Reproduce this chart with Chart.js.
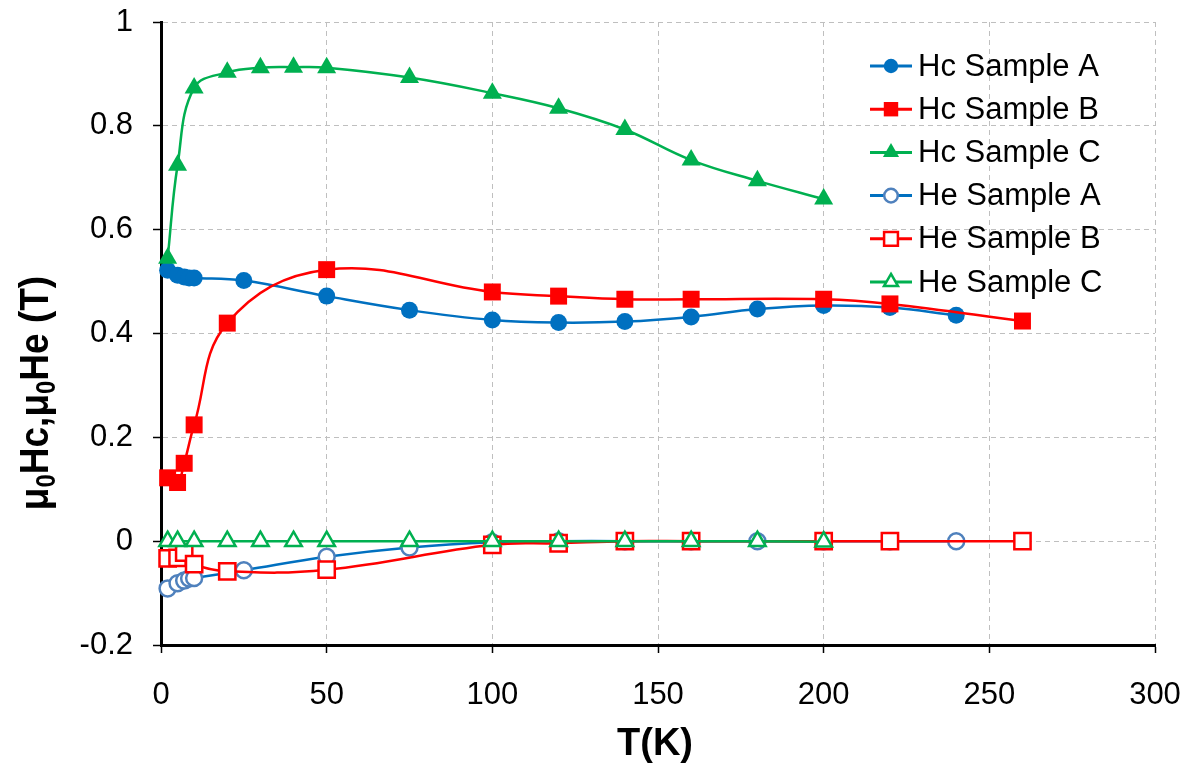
<!DOCTYPE html>
<html>
<head>
<meta charset="utf-8">
<script src="https://cdn.jsdelivr.net/npm/chart.js@4/dist/chart.umd.min.js"></script>
<style>
  html, body { margin: 0; padding: 0; background: #fff; }
  #wrap { width: 1193px; height: 765px; position: relative; }
</style>
</head>
<body>
<div id="wrap"><canvas id="c" width="1193" height="765"></canvas></div>
<script>
// ---- Data ----
const tA = [2, 5, 7, 8.5, 10, 25, 50, 75, 100, 120, 140, 160, 180, 200, 220, 240];
const hcA = [0.522, 0.512, 0.509, 0.507, 0.507, 0.502, 0.472, 0.445, 0.426, 0.421, 0.423, 0.432, 0.447, 0.454, 0.450, 0.435];
const heA = [-0.091, -0.081, -0.076, -0.072, -0.071, -0.056, -0.030, -0.012, -0.002, 0, 0, 0, 0, 0, 0, 0];

const tB = [2, 5, 7, 10, 20, 50, 100, 120, 140, 160, 200, 220, 260];
const hcB = [0.122, 0.113, 0.150, 0.224, 0.420, 0.523, 0.480, 0.472, 0.466, 0.466, 0.466, 0.457, 0.424];
const heB = [-0.033, -0.032, -0.022, -0.044, -0.058, -0.055, -0.007, -0.004, 0, 0, 0, 0, 0];

const tC = [2, 5, 10, 20, 30, 40, 50, 75, 100, 120, 140, 160, 180, 200];
const hcC = [0.545, 0.724, 0.873, 0.903, 0.912, 0.913, 0.912, 0.893, 0.863, 0.834, 0.793, 0.734, 0.694, 0.659];
const heC = [0, 0, 0, 0, 0, 0, 0, 0, 0, 0, 0, 0, 0, -0.001];

const seriesNames = ['Hc Sample A', 'Hc Sample B', 'Hc Sample C', 'He Sample A', 'He Sample B', 'He Sample C'];
const xTicks = [0, 50, 100, 150, 200, 250, 300];
const yTicks = [-0.2, 0, 0.2, 0.4, 0.6, 0.8, 1];
const xTitle = 'T(K)';

const FONT = '"Liberation Sans", Arial, Helvetica, sans-serif';
const BLUE = '#0070C0', BLUE_LIGHT = '#4F81BD', RED = '#FF0000', GREEN = '#00B050';

function pts(xs, ys) { return xs.map((x, i) => ({ x: x, y: ys[i] })); }

function mk(label, xs, ys, line, mark, fill, style, r, bw, order) {
  return {
    label: label, data: pts(xs, ys),
    borderColor: line, borderWidth: 2.5,
    pointStyle: style, pointRadius: r, pointHoverRadius: r,
    pointBackgroundColor: fill, pointBorderColor: mark, pointBorderWidth: bw,
    tension: 0.4, fill: false, order: order, clip: false
  };
}

const datasets = [
  mk(seriesNames[0], tA, hcA, BLUE, BLUE, BLUE, 'circle', 8.5, 0, 5),
  mk(seriesNames[1], tB, hcB, RED, RED, RED, 'rect', 12, 0, 4),
  mk(seriesNames[2], tC, hcC, GREEN, GREEN, GREEN, 'triangle', 11, 0, 3),
  mk(seriesNames[3], tA, heA, BLUE, BLUE_LIGHT, '#FFFFFF', 'circle', 8, 2.5, 2),
  mk(seriesNames[4], tB, heB, RED, RED, '#FFFFFF', 'rect', 11.5, 2.5, 1),
  mk(seriesNames[5], tC, heC, GREEN, GREEN, '#FFFFFF', 'triangle', 9.5, 2.5, 0)
];

const titlesPlugin = {
  id: 'titles',
  afterDraw(chart) {
    const ctx = chart.ctx;
    const ca = chart.chartArea;
    ctx.save();
    ctx.fillStyle = '#000';
    // x title
    ctx.font = 'bold 38px ' + FONT;
    ctx.textAlign = 'center';
    ctx.textBaseline = 'alphabetic';
    ctx.fillText(xTitle, (ca.left + ca.right) / 2 - 3, 755);
    // y title with subscripts
    const fs = 37, sfs = 24;
    const parts = [['\u03BC', false], ['0', true], ['Hc,', false], ['\u03BC', false], ['0', true], ['He (T)', false]];
    let total = 0;
    const widths = parts.map(p => {
      ctx.font = 'bold ' + (p[1] ? sfs : fs) + 'px ' + FONT;
      const w = ctx.measureText(p[0]).width;
      total += w; return w;
    });
    ctx.translate(48, 393);
    ctx.rotate(-Math.PI / 2);
    ctx.scale(1, 1.12);
    ctx.textAlign = 'left';
    ctx.textBaseline = 'alphabetic';
    let x = -total / 2;
    parts.forEach((p, i) => {
      ctx.font = 'bold ' + (p[1] ? sfs : fs) + 'px ' + FONT;
      ctx.fillText(p[0], x, p[1] ? 6 : 0);
      x += widths[i];
    });
    ctx.restore();
  }
};

const legendPlugin = {
  id: 'customLegend',
  afterDraw(chart) {
    const ctx = chart.ctx;
    ctx.save();
    const y0 = 66, dy = 43.2;
    chart.data.datasets.forEach((ds, i) => {
      const y = y0 + i * dy;
      ctx.strokeStyle = ds.borderColor;
      ctx.lineWidth = 3;
      ctx.beginPath(); ctx.moveTo(870, y); ctx.lineTo(912, y); ctx.stroke();
      ctx.fillStyle = ds.pointBackgroundColor;
      ctx.strokeStyle = ds.pointBorderColor;
      ctx.lineWidth = ds.pointBorderWidth;
      Chart.helpers.drawPoint(ctx, {
        pointStyle: ds.pointStyle, rotation: 0,
        radius: ds.pointRadius * 0.85, borderWidth: ds.pointBorderWidth
      }, 891, y);
      ctx.fillStyle = '#000';
      ctx.font = '31px ' + FONT;
      ctx.textAlign = 'left';
      ctx.textBaseline = 'middle';
      ctx.fillText(ds.label, 918, y + 1);
    });
    ctx.restore();
  }
};

new Chart(document.getElementById('c'), {
  type: 'line',
  data: { datasets: datasets },
  plugins: [titlesPlugin, legendPlugin],
  options: {
    responsive: false,
    devicePixelRatio: 1,
    animation: false,
    layout: { padding: { left: 0, top: 22, right: 38, bottom: 0 } },
    plugins: { legend: { display: false }, tooltip: { enabled: false } },
    scales: {
      x: {
        type: 'linear', min: xTicks[0], max: xTicks[xTicks.length - 1],
        afterFit: s => { s.height = 120; s.paddingLeft = 0; s.paddingRight = 0; },
        afterBuildTicks: s => { s.ticks = xTicks.map(v => ({ value: v })); },
        ticks: { color: '#000', font: { family: FONT, size: 31 }, padding: 24, maxRotation: 0, autoSkip: false },
        grid: { color: '#BFBFBF', lineWidth: 1, tickLength: 8, tickColor: '#000', tickWidth: 1.5 },
        border: { display: true, color: '#000', width: 3, dash: [5, 4] }
      },
      y: {
        type: 'linear', min: yTicks[0], max: yTicks[yTicks.length - 1],
        afterFit: s => { s.width = 161; s.paddingTop = 0; s.paddingBottom = 0; },
        afterBuildTicks: s => { s.ticks = yTicks.map(v => ({ value: v })); },
        ticks: { color: '#000', font: { family: FONT, size: 31 }, padding: 20,
                 callback: v => String(Number(v.toFixed(1))) },
        grid: { color: '#BFBFBF', lineWidth: 1, tickLength: 8, tickColor: '#000', tickWidth: 1.5 },
        border: { display: true, color: '#000', width: 3, dash: [5, 4] }
      }
    }
  }
});
</script>
</body>
</html>
